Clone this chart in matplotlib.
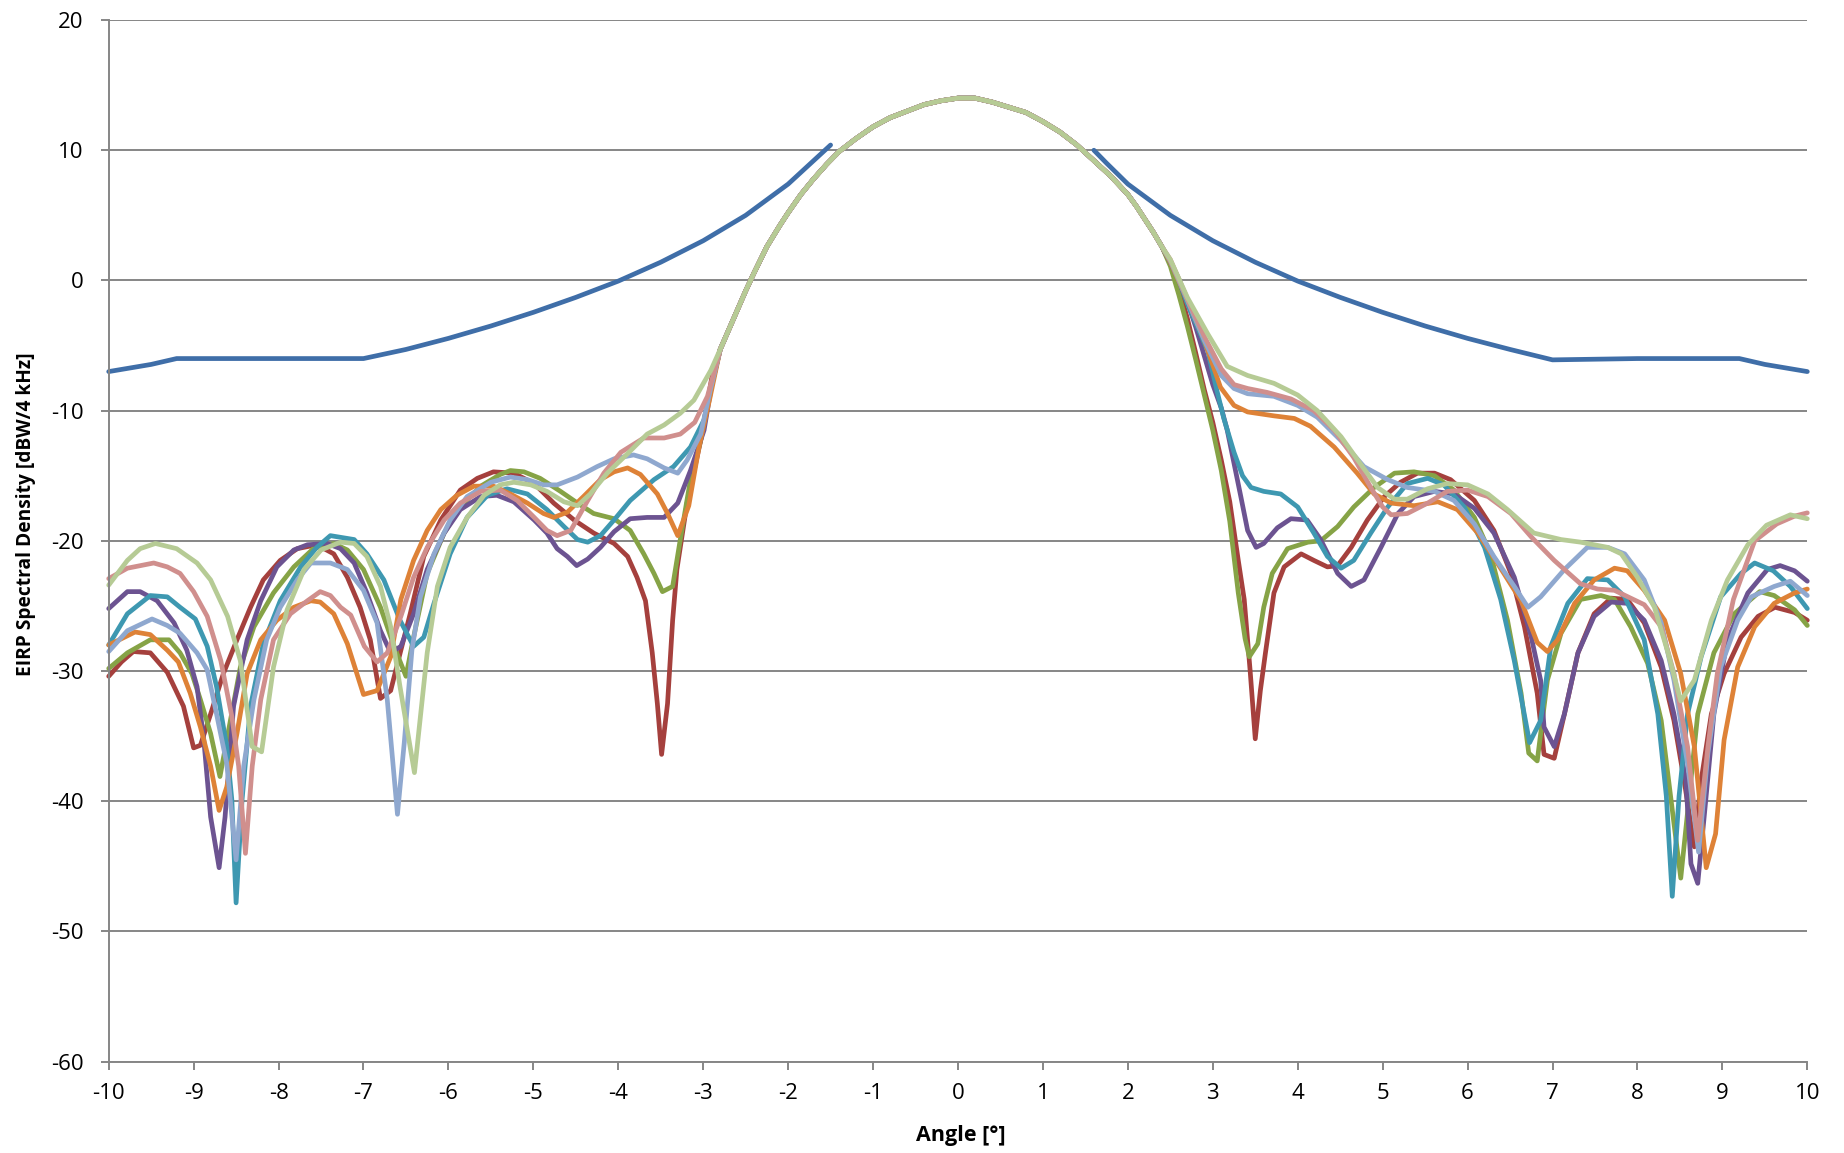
import numpy as np
import matplotlib.pyplot as plt

# ---------------- data (angle in deg, level in dBW/4kHz) ----------------
mask_pts = [(-10, -7.0), (-9.5, -6.45), (-9.2, -6.0), (-8.0, -6.0), (-7.0, -6.0), (-6.5, -5.3),
            (-6.0, -4.45), (-5.5, -3.5), (-5.0, -2.45), (-4.5, -1.3), (-4.0, -0.05), (-3.5, 1.4),
            (-3.0, 3.05), (-2.5, 5.0), (-2.0, 7.4), (-1.75, 8.9), (-1.5, 10.4),
            (np.nan, np.nan),
            (1.6, 10.0), (1.75, 9.0), (2.0, 7.4), (2.5, 5.0), (3.0, 3.05), (3.5, 1.4), (4.0, -0.05),
            (4.5, -1.3), (5.0, -2.45), (5.5, -3.5), (6.0, -4.45), (6.5, -5.3), (7.0, -6.1),
            (8.0, -6.0), (9.2, -6.0), (9.5, -6.45), (10, -7.0)]

# main lobe, common to all measured patterns
lobe_x = [-2.8, -2.7, -2.6, -2.5, -2.4, -2.25, -2.1, -2.0, -1.85, -1.7, -1.55, -1.4, -1.2, -1.0,
          -0.8, -0.6, -0.4, -0.2, 0.0, 0.2, 0.4, 0.6, 0.8, 1.0, 1.2, 1.4, 1.6, 1.8, 1.9, 2.0, 2.1,
          2.2, 2.3, 2.4]
lobe_y = [-5.3, -3.8, -2.3, -0.8, 0.6, 2.6, 4.2, 5.2, 6.6, 7.8, 8.9, 9.9, 10.9, 11.8,
          12.5, 13.0, 13.5, 13.8, 14.0, 14.0, 13.7, 13.3, 12.9, 12.2, 11.4, 10.4, 9.2, 8.0, 7.3,
          6.6, 5.7, 4.7, 3.7, 2.6]

red_left = [(-10, -30.4), (-9.85, -29.3), (-9.71, -28.5), (-9.51, -28.6), (-9.31, -30.1), (-9.12, -32.7),
            (-9.0, -35.9), (-8.92, -35.7), (-8.8, -33.3), (-8.65, -30.2), (-8.49, -27.6), (-8.33, -25.1),
            (-8.18, -23.0), (-7.98, -21.5), (-7.78, -20.6), (-7.55, -20.3), (-7.35, -21.0), (-7.19, -22.8),
            (-7.04, -25.1), (-6.92, -27.6), (-6.8, -32.1), (-6.68, -31.5), (-6.56, -28.4), (-6.45, -25.6),
            (-6.29, -21.2), (-6.09, -18.4), (-5.86, -16.1), (-5.66, -15.2), (-5.47, -14.7), (-5.23, -14.8),
            (-4.99, -15.6), (-4.76, -17.1), (-4.52, -18.4), (-4.29, -19.4), (-4.05, -20.2), (-3.89, -21.2),
            (-3.78, -22.8), (-3.68, -24.6), (-3.6, -28.6), (-3.54, -32.5), (-3.49, -36.4), (-3.42, -32.5),
            (-3.36, -26.1), (-3.31, -22.2), (-3.19, -17.1), (-3.03, -12.3), (-2.9, -7.5)]
red_right = [(2.5, 1.3), (2.6, -0.6), (2.7, -2.9), (2.8, -5.6), (2.9, -8.4), (3.0, -10.9), (3.1, -13.8),
             (3.2, -17.0), (3.3, -21.5), (3.37, -24.5), (3.44, -30.0), (3.5, -35.2), (3.56, -31.5),
             (3.62, -28.6), (3.72, -24.0), (3.84, -22.0), (4.04, -21.0), (4.19, -21.5), (4.35, -22.0),
             (4.47, -21.9), (4.63, -20.5), (4.82, -18.4), (5.02, -16.6), (5.21, -15.5), (5.41, -14.8),
             (5.61, -14.8), (5.8, -15.3), (6.08, -16.9), (6.31, -19.2), (6.51, -22.5), (6.67, -26.6),
             (6.82, -31.7), (6.9, -36.4), (7.02, -36.7), (7.14, -33.3), (7.3, -28.6), (7.49, -25.6),
             (7.69, -24.4), (7.88, -24.5), (8.08, -26.3), (8.28, -29.7), (8.43, -33.8), (8.55, -38.4),
             (8.67, -43.5), (8.75, -38.4), (8.87, -33.3), (9.02, -30.2), (9.22, -27.4), (9.42, -25.8),
             (9.62, -25.1), (9.85, -25.5), (10.0, -26.1)]

green_left = [(-10, -29.8), (-9.78, -28.6), (-9.51, -27.6), (-9.29, -27.6), (-9.16, -28.6), (-9.02, -30.2),
              (-8.92, -32.2), (-8.8, -34.8), (-8.69, -38.1), (-8.61, -35.3), (-8.45, -29.7), (-8.29, -26.6),
              (-8.06, -24.0), (-7.82, -22.0), (-7.59, -20.6), (-7.35, -20.2), (-7.19, -20.7), (-7.0, -22.2),
              (-6.8, -25.1), (-6.64, -28.1), (-6.5, -30.4), (-6.41, -27.4), (-6.25, -22.5), (-6.05, -19.4),
              (-5.86, -17.4), (-5.62, -15.8), (-5.39, -14.9), (-5.27, -14.6), (-5.11, -14.7), (-4.92, -15.2),
              (-4.68, -16.2), (-4.48, -17.1), (-4.29, -17.9), (-4.05, -18.3), (-3.86, -19.2), (-3.7, -21.0),
              (-3.58, -22.5), (-3.48, -23.9), (-3.36, -23.5), (-3.27, -19.9), (-3.15, -15.3), (-3.03, -12.3),
              (-2.9, -8.0)]
green_right = [(2.5, 1.1), (2.6, -1.1), (2.7, -3.5), (2.8, -6.1), (2.9, -8.8), (3.0, -11.5), (3.1, -14.6),
               (3.2, -18.5), (3.3, -24.0), (3.38, -27.5), (3.43, -28.9), (3.53, -27.9), (3.6, -25.1),
               (3.7, -22.5), (3.88, -20.6), (4.12, -20.1), (4.27, -20.0), (4.47, -18.9), (4.66, -17.4),
               (4.9, -15.9), (5.14, -14.8), (5.37, -14.7), (5.61, -15.0), (5.84, -16.1), (6.08, -18.2),
               (6.27, -21.0), (6.47, -26.1), (6.63, -31.7), (6.72, -36.3), (6.82, -36.9), (6.94, -30.7),
               (7.1, -27.1), (7.33, -24.5), (7.57, -24.2), (7.73, -24.5), (7.92, -26.6), (8.12, -29.4),
               (8.28, -33.8), (8.39, -39.6), (8.51, -45.9), (8.61, -39.6), (8.71, -33.3), (8.9, -28.6),
               (9.14, -25.6), (9.44, -23.9), (9.61, -24.2), (9.85, -25.3), (10.0, -26.5)]

purple_left = [(-10, -25.2), (-9.78, -23.9), (-9.63, -23.9), (-9.43, -24.6), (-9.23, -26.3), (-9.08, -28.4),
               (-8.96, -31.2), (-8.88, -35.3), (-8.8, -41.2), (-8.7, -45.1), (-8.63, -41.2), (-8.53, -32.7),
               (-8.37, -27.6), (-8.21, -24.6), (-8.02, -22.0), (-7.82, -20.7), (-7.66, -20.3), (-7.43, -20.2),
               (-7.27, -20.6), (-7.11, -21.7), (-6.96, -24.0), (-6.8, -26.9), (-6.68, -28.6), (-6.56, -28.1),
               (-6.41, -25.6), (-6.25, -22.2), (-6.05, -19.4), (-5.86, -17.6), (-5.62, -16.6), (-5.43, -16.5),
               (-5.23, -17.0), (-4.99, -18.4), (-4.84, -19.4), (-4.72, -20.6), (-4.6, -21.2), (-4.49, -21.9),
               (-4.36, -21.4), (-4.21, -20.5), (-4.05, -19.3), (-3.86, -18.3), (-3.66, -18.2), (-3.46, -18.2),
               (-3.3, -17.1), (-3.15, -14.6), (-2.99, -11.5), (-2.9, -8.0)]
purple_right = [(2.5, 1.4), (2.6, 0.1), (2.7, -1.6), (2.8, -3.6), (2.9, -5.8), (3.0, -8.0), (3.1, -9.8),
                (3.17, -11.5), (3.33, -16.6), (3.41, -19.2), (3.51, -20.5), (3.6, -20.2), (3.76, -19.0),
                (3.92, -18.3), (4.11, -18.4), (4.27, -19.9), (4.47, -22.5), (4.63, -23.5), (4.78, -23.0),
                (4.98, -20.5), (5.18, -17.9), (5.37, -16.6), (5.61, -16.2), (5.84, -16.4), (6.08, -17.5),
                (6.31, -19.4), (6.55, -22.8), (6.75, -27.4), (6.86, -30.7), (6.9, -34.3), (7.02, -35.8),
                (7.14, -33.3), (7.3, -28.6), (7.49, -25.8), (7.69, -24.7), (7.88, -24.8), (8.08, -26.1),
                (8.28, -29.2), (8.43, -33.3), (8.57, -38.4), (8.63, -44.8), (8.71, -46.3), (8.79, -40.9),
                (8.9, -33.3), (9.06, -27.6), (9.3, -24.0), (9.53, -22.2), (9.68, -21.9), (9.85, -22.3),
                (10.0, -23.1)]

teal_left = [(-10, -28.0), (-9.78, -25.6), (-9.51, -24.2), (-9.31, -24.3), (-9.16, -25.1), (-8.98, -26.0),
             (-8.84, -28.1), (-8.73, -31.2), (-8.61, -35.8), (-8.55, -39.9), (-8.5, -47.8), (-8.43, -39.9),
             (-8.33, -32.7), (-8.18, -27.9), (-7.98, -24.6), (-7.74, -22.0), (-7.55, -20.5), (-7.39, -19.6),
             (-7.11, -19.9), (-6.96, -21.0), (-6.76, -23.0), (-6.57, -26.1), (-6.41, -28.1), (-6.29, -27.4),
             (-6.17, -24.8), (-5.98, -21.0), (-5.78, -18.2), (-5.54, -16.5), (-5.31, -16.0), (-5.07, -16.4),
             (-4.84, -17.6), (-4.64, -18.9), (-4.48, -19.9), (-4.36, -20.1), (-4.21, -19.6), (-4.05, -18.4),
             (-3.86, -16.9), (-3.58, -15.3), (-3.35, -14.3), (-3.15, -12.8), (-2.99, -10.7), (-2.9, -8.0)]
teal_right = [(2.5, 1.4), (2.6, 0.0), (2.7, -1.8), (2.82, -3.6), (2.94, -5.4), (3.05, -8.5), (3.13, -10.6),
              (3.25, -13.2), (3.35, -15.0), (3.45, -15.9), (3.6, -16.2), (3.8, -16.4), (4.0, -17.4),
              (4.19, -19.4), (4.35, -21.2), (4.51, -22.1), (4.66, -21.5), (4.86, -19.4), (5.06, -17.4),
              (5.29, -15.6), (5.53, -15.2), (5.72, -15.7), (5.96, -17.4), (6.2, -20.5), (6.39, -24.5),
              (6.55, -29.2), (6.73, -35.5), (6.86, -33.8), (6.98, -28.1), (7.18, -24.8), (7.41, -22.9),
              (7.65, -23.0), (7.85, -24.3), (8.08, -27.6), (8.24, -33.3), (8.34, -39.6), (8.41, -47.3),
              (8.49, -39.6), (8.59, -33.3), (8.75, -28.9), (8.98, -24.3), (9.22, -22.5), (9.38, -21.7),
              (9.6, -22.3), (9.8, -23.5), (10.0, -25.2)]

orange_left = [(-10, -28.0), (-9.69, -27.0), (-9.51, -27.2), (-9.31, -28.4), (-9.18, -29.3), (-9.04, -31.7),
               (-8.92, -34.3), (-8.8, -37.3), (-8.7, -40.7), (-8.61, -38.9), (-8.49, -34.8), (-8.37, -30.2),
               (-8.21, -27.6), (-8.02, -26.1), (-7.82, -25.1), (-7.62, -24.6), (-7.51, -24.7), (-7.35, -25.6),
               (-7.19, -27.9), (-7.0, -31.8), (-6.84, -31.5), (-6.68, -28.9), (-6.56, -24.5), (-6.41, -21.5),
               (-6.25, -19.2), (-6.09, -17.6), (-5.9, -16.5), (-5.7, -15.8), (-5.47, -15.8), (-5.27, -16.4),
               (-5.07, -17.1), (-4.88, -17.9), (-4.76, -18.2), (-4.6, -17.8), (-4.41, -16.6), (-4.21, -15.3),
               (-4.05, -14.7), (-3.89, -14.4), (-3.74, -14.9), (-3.54, -16.4), (-3.42, -17.9), (-3.3, -19.6),
               (-3.17, -17.3), (-3.05, -12.8), (-2.92, -9.0)]
orange_right = [(2.5, 1.4), (2.7, -1.5), (2.9, -4.6), (3.09, -8.2), (3.25, -9.6), (3.41, -10.1), (3.72, -10.4),
                (3.96, -10.6), (4.15, -11.2), (4.43, -12.8), (4.7, -14.8), (4.9, -16.4), (5.1, -17.1),
                (5.37, -17.3), (5.65, -17.0), (5.88, -17.6), (6.12, -19.4), (6.35, -21.7), (6.63, -24.6),
                (6.82, -27.8), (6.94, -28.5), (7.06, -27.6), (7.26, -24.8), (7.49, -23.0), (7.73, -22.1),
                (7.88, -22.3), (8.08, -23.8), (8.32, -26.1), (8.51, -30.2), (8.67, -35.8), (8.81, -45.1),
                (8.92, -42.5), (9.02, -35.3), (9.18, -29.7), (9.38, -26.6), (9.61, -24.8), (9.85, -24.0),
                (10.0, -23.7)]

ltblue_left = [(-10, -28.5), (-9.78, -26.9), (-9.49, -26.0), (-9.31, -26.5), (-9.16, -27.1), (-8.96, -28.6),
               (-8.84, -29.9), (-8.73, -33.3), (-8.61, -37.1), (-8.5, -44.5), (-8.41, -37.3), (-8.29, -32.2),
               (-8.14, -27.6), (-7.98, -25.1), (-7.78, -23.0), (-7.62, -21.7), (-7.39, -21.7), (-7.19, -22.2),
               (-7.0, -23.8), (-6.84, -26.3), (-6.72, -32.2), (-6.6, -41.0), (-6.52, -35.5), (-6.43, -28.4),
               (-6.33, -24.3), (-6.17, -21.0), (-5.98, -18.4), (-5.78, -16.6), (-5.5, -15.5), (-5.27, -15.1),
               (-5.07, -15.3), (-4.88, -15.7), (-4.72, -15.7), (-4.48, -15.1), (-4.25, -14.3), (-4.05, -13.7),
               (-3.82, -13.4), (-3.66, -13.7), (-3.46, -14.4), (-3.3, -14.8), (-3.19, -13.8), (-3.03, -11.8),
               (-2.92, -8.5)]
ltblue_right = [(2.5, 1.5), (2.7, -1.5), (2.9, -4.6), (3.1, -7.3), (3.25, -8.3), (3.41, -8.7), (3.72, -8.9),
                (4.0, -9.6), (4.23, -10.5), (4.51, -12.3), (4.78, -14.3), (5.06, -15.3), (5.29, -15.9),
                (5.61, -16.2), (5.84, -16.9), (6.08, -18.7), (6.31, -21.2), (6.55, -23.5), (6.71, -25.1),
                (6.86, -24.3), (7.14, -22.2), (7.41, -20.5), (7.65, -20.5), (7.85, -21.0), (8.08, -23.0),
                (8.28, -26.3), (8.43, -30.7), (8.59, -37.1), (8.72, -43.9), (8.83, -36.3), (8.98, -29.7),
                (9.18, -26.1), (9.34, -24.3), (9.61, -23.5), (9.8, -23.1), (10.0, -24.2)]

pink_left = [(-10, -22.9), (-9.78, -22.1), (-9.47, -21.7), (-9.31, -22.0), (-9.16, -22.5), (-9.0, -23.9),
             (-8.84, -25.8), (-8.68, -29.2), (-8.55, -33.5), (-8.47, -37.3), (-8.39, -44.0), (-8.31, -37.3),
             (-8.21, -32.2), (-8.06, -27.6), (-7.86, -25.6), (-7.66, -24.6), (-7.51, -23.9), (-7.39, -24.2),
             (-7.27, -25.1), (-7.15, -25.7), (-6.99, -28.1), (-6.84, -29.3), (-6.72, -28.6), (-6.56, -25.8),
             (-6.41, -22.8), (-6.25, -20.5), (-6.05, -18.4), (-5.86, -17.1), (-5.62, -16.2), (-5.39, -16.1),
             (-5.19, -16.9), (-4.99, -18.2), (-4.84, -19.2), (-4.72, -19.6), (-4.56, -19.2), (-4.36, -16.9),
             (-4.17, -14.8), (-3.97, -13.2), (-3.7, -12.1), (-3.46, -12.1), (-3.27, -11.8), (-3.1, -10.9),
             (-2.95, -8.9)]
pink_right = [(2.5, 1.6), (2.7, -1.4), (2.9, -4.3), (3.1, -6.8), (3.25, -8.0), (3.41, -8.3), (3.64, -8.6),
              (3.92, -9.1), (4.19, -10.0), (4.43, -11.5), (4.66, -13.6), (4.86, -15.9), (5.0, -17.4),
              (5.1, -18.0), (5.29, -17.9), (5.53, -17.1), (5.76, -16.2), (6.0, -16.1), (6.24, -16.6),
              (6.51, -17.9), (6.75, -19.7), (7.02, -21.5), (7.33, -23.3), (7.53, -23.7), (7.73, -23.8),
              (7.92, -24.4), (8.08, -24.9), (8.28, -26.6), (8.43, -30.2), (8.59, -35.8), (8.71, -43.0),
              (8.83, -35.8), (8.94, -30.2), (9.13, -24.5), (9.38, -20.0), (9.64, -18.7), (9.85, -18.1),
              (10.0, -17.85)]

ltgreen_left = [(-10, -23.4), (-9.78, -21.5), (-9.63, -20.6), (-9.45, -20.2), (-9.2, -20.6), (-8.96, -21.7),
                (-8.8, -23.0), (-8.6, -25.8), (-8.45, -29.2), (-8.31, -35.8), (-8.2, -36.2), (-8.06, -29.7),
                (-7.9, -25.3), (-7.7, -22.2), (-7.5, -20.7), (-7.27, -20.1), (-7.11, -20.2), (-6.96, -21.2),
                (-6.8, -23.5), (-6.68, -26.6), (-6.57, -31.2), (-6.4, -37.8), (-6.25, -28.6), (-6.13, -23.5),
                (-5.98, -20.5), (-5.78, -18.2), (-5.58, -16.5), (-5.39, -15.7), (-5.23, -15.5), (-5.03, -15.7),
                (-4.84, -16.2), (-4.64, -17.0), (-4.48, -17.3), (-4.33, -16.4), (-4.13, -14.8), (-3.89, -13.3),
                (-3.66, -11.8), (-3.46, -11.1), (-3.27, -10.2), (-3.11, -9.2), (-2.91, -6.9)]
ltgreen_right = [(2.5, 1.6), (2.7, -1.3), (2.94, -4.1), (3.17, -6.6), (3.41, -7.3), (3.72, -7.9), (4.0, -8.8),
                 (4.23, -10.0), (4.51, -12.0), (4.74, -14.1), (4.94, -15.9), (5.14, -16.8), (5.29, -16.8),
                 (5.53, -16.0), (5.76, -15.6), (6.0, -15.7), (6.24, -16.4), (6.47, -17.6), (6.78, -19.4),
                 (7.1, -19.9), (7.33, -20.1), (7.65, -20.5), (7.81, -21.0), (8.0, -22.8), (8.2, -25.1),
                 (8.36, -28.6), (8.51, -32.3), (8.67, -30.7), (8.87, -26.1), (9.06, -23.0), (9.3, -20.3),
                 (9.52, -18.8), (9.8, -18.0), (10.0, -18.3)]

series = [
    (red_left, red_right, '#A5403D'),
    (green_left, green_right, '#86A346'),
    (purple_left, purple_right, '#6C5391'),
    (teal_left, teal_right, '#3E98B1'),
    (orange_left, orange_right, '#DE8237'),
    (ltblue_left, ltblue_right, '#8FA8CF'),
    (pink_left, pink_right, '#D08F8D'),
    (ltgreen_left, ltgreen_right, '#B6CB95'),
]

# ---------------- plot ----------------
plt.rcParams['font.family'] = ['Open Sans', 'DejaVu Sans']
plt.rcParams['axes.unicode_minus'] = False
fig = plt.figure(figsize=(18.44, 11.53), dpi=100)
ax = fig.add_axes([0.05895, 0.07918, 0.92115, 0.90347])

grey = '#868686'
lw = 3.4

mx, my = zip(*mask_pts)
ax.plot(mx, my, color='#3F6EA8', linewidth=lw, solid_capstyle='round', solid_joinstyle='round', clip_on=False)

for left, right, color in series:
    lx, ly = zip(*left)
    rx, ry = zip(*right)
    x = np.concatenate([lx, lobe_x, rx])
    y = np.concatenate([ly, lobe_y, ry])
    ax.plot(x, y, color=color, linewidth=lw, solid_capstyle='round', solid_joinstyle='round', clip_on=False)

ax.set_xlim(-10, 10)
ax.set_ylim(-60, 20)
ax.set_xticks(np.arange(-10, 11, 1))
ax.set_yticks(np.arange(-60, 21, 10))
ax.yaxis.grid(True, color=grey, linewidth=1.4)
ax.set_axisbelow(True)

for side in ['top', 'right']:
    ax.spines[side].set_visible(False)
for side in ['left', 'bottom']:
    ax.spines[side].set_color(grey)
    ax.spines[side].set_linewidth(1.4)

ax.tick_params(axis='both', direction='out', length=6, width=1.4, color=grey, labelsize=16)
ax.tick_params(axis='y', pad=12)
ax.tick_params(axis='x', pad=9)

fig.text(961 / 1844, 1 - 1136 / 1153, 'Angle [°]', ha='center', va='center', fontsize=15.5, fontweight='bold')
fig.text(26 / 1844, 1 - 514 / 1153, 'EIRP Spectral Density [dBW/4 kHz]', ha='center', va='center',
         rotation=90, fontsize=13.8, fontweight='bold')

fig.savefig('out.png', dpi=100)
